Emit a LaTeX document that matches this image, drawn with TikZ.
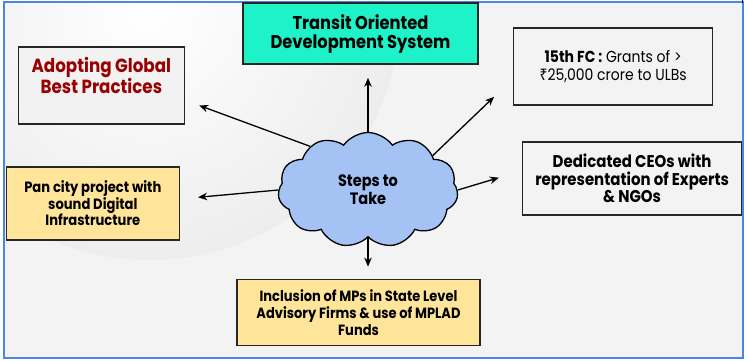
\documentclass[tikz,border=0pt]{standalone}
\usepackage{fontspec}
\setmainfont[FakeStretch=0.88]{Poppins}
\newfontfamily\rupeefont[FakeStretch=0.88]{Noto Sans}
\usepackage{tikz}
\usetikzlibrary{shapes,arrows}
\usetikzlibrary{positioning}
\usetikzlibrary{shapes.symbols}
\usetikzlibrary{arrows.meta}
\tikzset{>={Stealth[length=9pt,width=7.5pt]}}
\definecolor{frameblue}{HTML}{4A86E8}
\definecolor{tealbox}{HTML}{1DF2C8}
\definecolor{yellowbox}{HTML}{FFE599}
\definecolor{cloudblue}{HTML}{A4C2F4}
\definecolor{darkred}{HTML}{990000}
\definecolor{bggray}{HTML}{F3F3F3}
\tikzstyle{box} = [draw=black!85, line width=1.6pt, align=center]
\tikzstyle{line} = [draw, 
->, 
line width=1.3pt]
\newcommand\boxfont[2]{\bfseries\fontsize{#1}{#2}\selectfont}

\begin{document}
\begin{tikzpicture}[x=1pt, y=-1pt]
    \useasboundingbox (0,0) rectangle (748,360);
    %% Background
    \fill [bggray] (4,2) rectangle (743,358);
    \begin{scope}
      \clip (4,2) rectangle (743,358);
      \shade [inner color=white, outer color=black!7] (150,10) circle (250pt);
    \end{scope}
    \draw [frameblue, line width=2pt] (4,2) rectangle (743,358);
    \draw [line width=1pt] (742,0) -- (742,3);
    %% Nodes
    \node [cloud, cloud puffs=11, cloud puff arc=110, aspect=1.6, draw, line width=1.3pt, fill=cloudblue, minimum width=180pt, minimum height=115pt, align=center, font=\boxfont{16.5}{18}] (steps) at (368,190) {Steps to\\Take};
    \node [box, fill=tealbox, minimum width=235pt, minimum height=61pt, above=67pt of steps, xshift=-7.5pt, font=\boxfont{18.5}{19}] (tod) {Transit Oriented\\Development System};
    \node [box, fill=black!5, text=darkred, minimum width=166pt, minimum height=77pt, left=93pt of steps, yshift=104.5pt, font=\boxfont{19}{19}] (global) {Adopting Global\\Best Practices\\[1pt]~};
    \node [box, fill=yellowbox, minimum width=173pt, minimum height=73pt, left=98pt of steps, yshift=-13.5pt, font=\boxfont{14.9}{16.5}] (pancity) {Pan city project with\\sound Digital\\Infrastructure};
    \node [box, minimum width=199pt, minimum height=77pt, right=55pt of steps, yshift=123.5pt, font=\fontsize{15.9}{18}\selectfont] (grants) {\textbf{15th FC :} Grants of >\\{\rupeefont ₹}25,000 crore to ULBs};
    \node [box, minimum width=219pt, minimum height=73pt, right=64pt of steps, yshift=11.5pt, font=\boxfont{17}{17.7}] (ceos) {Dedicated CEOs with\\representation of Experts\\\& NGOs};
    \node [box, fill=yellowbox, minimum width=243pt, minimum height=66pt, below=41pt of steps, xshift=-9.5pt, font=\boxfont{14.8}{17}] (mplad) {Inclusion of MPs in State Level\\Advisory Firms \& use of MPLAD\\Funds};
    %% Flows
    \path [line, shorten >=15pt] (steps.143) -- (global.350);
    \path [line, shorten >=13pt] (steps.north) -- (steps.north |- tod.south);
    \path [line, shorten >=26pt] (steps.28) -- (grants.187);
    \path [line, shorten >=24pt] (steps.east) -- (ceos.176);
    \path [line, shorten >=18pt] (steps.west) -- (pancity.3);
    \path [line, shorten >=12pt] (steps.south) -- (steps.south |- mplad.north);
  \end{tikzpicture}
\end{document}
